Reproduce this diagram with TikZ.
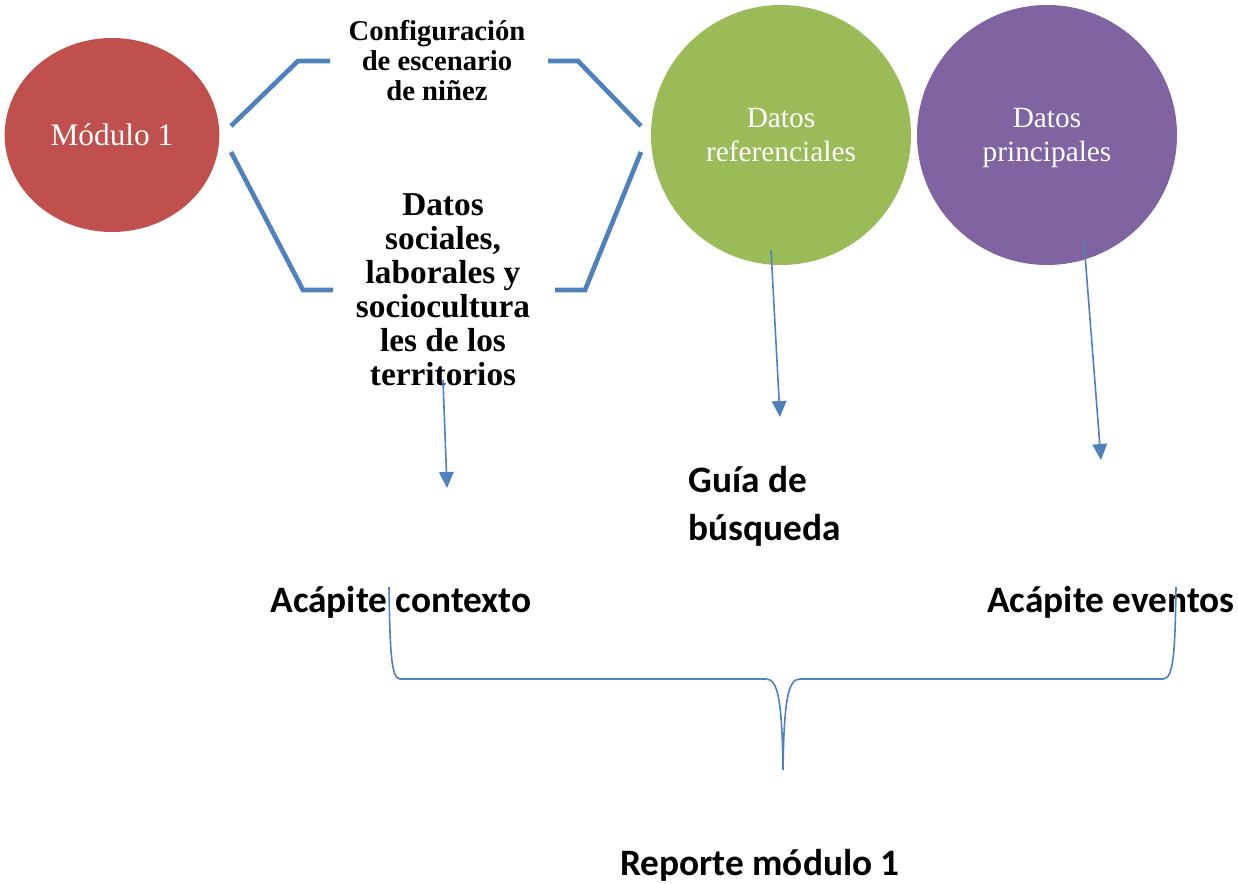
\documentclass[tikz,border=0pt]{standalone}
\usepackage{fontspec}
\setmainfont{Liberation Serif}
\newfontfamily\calfont{Carlito}
\usetikzlibrary{arrows.meta}
\usetikzlibrary{shapes.geometric}
\usetikzlibrary{positioning}
\definecolor{linkblue}{HTML}{4F81BD}
\definecolor{modred}{HTML}{C0504D}
\definecolor{refgreen}{HTML}{9BBB59}
\definecolor{mainpurple}{HTML}{8064A2}

\begin{document}
\begin{tikzpicture}[x=0.75pt,y=-0.75pt,node distance=199.5pt,
                    data node/.style={circle,minimum size=195pt,inner sep=0pt},
                    circle text/.style={text=white,align=center,font=\fontsize{22}{25.5}\selectfont},
                    side text/.style={align=center,font=\bfseries\fontsize{21.5}{22.5}\selectfont},
                    sans text/.style={font=\calfont\bfseries\fontsize{28}{36}\selectfont},
                    bracket/.style={linkblue,line width=3.5pt},
                    link/.style={linkblue,line width=1.2pt,-{Triangle[width=11pt,length=12pt]}},
                    brace/.style={linkblue,line width=1.2pt}]
  \useasboundingbox (0,0) rectangle (1238,884);

  % circles
  \node[ellipse,fill=modred,minimum width=161pt,minimum height=145.5pt,inner sep=0pt,
        text=white,font=\fontsize{23.5}{25.5}\selectfont] (modulo) at (112,135) {Módulo 1};
  \node[data node,fill=refgreen] (refdata) at (781,135) {};
  \node[data node,fill=mainpurple] (maindata) [right of=refdata] {};
  \node[circle text] (reftext) at ([yshift=-3.5pt]refdata.center) {Datos\\referenciales\strut};
  \node[circle text] (maintext) at ([yshift=-3.5pt]maindata.center) {Datos\\principales\strut};

  % texts
  \node[side text] (config) at (437,61) {Configuración\\de escenario\\de niñez};
  \node[side text,font=\bfseries\fontsize{25}{25.5}\selectfont] (social) at (443,290)
    {Datos\\sociales,\\laborales y\\sociocultura\\les de los\\territorios};
  \node[sans text,align=left,anchor=west] (guia) at (684,506) {Guía de\\búsqueda};
  \node[sans text] (contexto) at (401,602) {Acápite contexto};
  \node[sans text] (eventos) at (1111,602) {Acápite eventos};
  \node[sans text] (reporte) at (760,865) {Reporte módulo 1};

  % brackets
  \coordinate (m1) at (231,126);
  \coordinate (m2) at (231,152);
  \coordinate (r1) at (641,126);
  \coordinate (r2) at (641,152);
  \draw[bracket] (m1) -- (298,61) -- (330,61);
  \draw[bracket] (m2) -- (303,290) -- (333,290);
  \draw[bracket] (548,61) -- (578,61) -- (r1);
  \draw[bracket] (555,290) -- (585,290) -- (r2);

  % arrows
  \coordinate (s1) at (443,380);
  \coordinate (s2) at (447,488);
  \coordinate (g1) at (771,250);
  \coordinate (g2) at (780,417);
  \coordinate (p1) at (1084,242);
  \coordinate (p2) at (1101,460);
  \draw[link] (s1) -- (s2);
  \draw[link] (g1) -- (g2);
  \draw[link] (p1) -- (p2);

  % brace
  \coordinate (bl) at (389,587);
  \coordinate (br) at (1176,587);
  \coordinate (bt) at (783,770);
  \draw[brace] (bl) .. controls (390,650) and (391,679) .. (400,679) -- (766,679)
    .. controls (778,679) and (782,700) .. (bt);
  \draw[brace] (br) .. controls (1175,650) and (1174,679) .. (1163,679) -- (800,679)
    .. controls (788,679) and (784,700) .. (bt);
\end{tikzpicture}
\end{document}
